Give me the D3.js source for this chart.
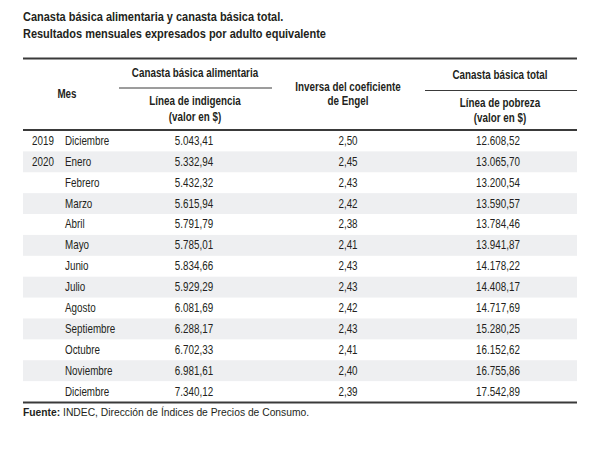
<!DOCTYPE html>
<html>
<head>
<meta charset="utf-8">
<script src="https://cdn.jsdelivr.net/npm/d3@7"></script>
<style>
  body { margin: 0; background: #fff; }
  svg text { font-family: "Liberation Sans", Arial, sans-serif; fill: #231f20; }
</style>
</head>
<body>
<div class="svg"></div>
<script>
// table data
var years = ["2019", "2020", "", "", "", "", "", "", "", "", "", "", ""];
var months = ["Diciembre", "Enero", "Febrero", "Marzo", "Abril", "Mayo", "Junio", "Julio",
  "Agosto", "Septiembre", "Octubre", "Noviembre", "Diciembre"];
var indigencia = ["5.043,41", "5.332,94", "5.432,32", "5.615,94", "5.791,79", "5.785,01", "5.834,66",
  "5.929,29", "6.081,69", "6.288,17", "6.702,33", "6.981,61", "7.340,12"];
var engel = ["2,50", "2,45", "2,43", "2,42", "2,38", "2,41", "2,43", "2,43", "2,42", "2,43", "2,41", "2,40", "2,39"];
var pobreza = ["12.608,52", "13.065,70", "13.200,54", "13.590,57", "13.784,46", "13.941,87", "14.178,22",
  "14.408,17", "14.717,69", "15.280,25", "16.152,62", "16.755,86", "17.542,89"];

var titleLines = ["Canasta básica alimentaria y canasta básica total.",
  "Resultados mensuales expresados por adulto equivalente"];

var w = 612, h = 458;
var left = 23, right = 577;
var rowsTop = 130.5, rowsBottom = 402;
// no condensed font installed, so squeeze the text horizontally
var narrow = 0.82;

var svg = d3.select('div.svg').append('svg')
  .attr('width', w)
  .attr('height', h);

function squeeze(x, y, sx) {
  return 'translate(' + x + ',' + y + ') scale(' + sx + ',1)';
}

var y = d3.scaleBand()
  .domain(d3.range(months.length))
  .range([rowsTop, rowsBottom]);

// stripes on every other row
svg.selectAll('rect.band')
  .data(d3.range(months.length).filter(function (i) { return i % 2 == 1; }))
  .enter()
  .append('rect')
  .attr('class', 'band')
  .attr('x', left)
  .attr('y', function (i) { return y(i); })
  .attr('width', right - left)
  .attr('height', y.bandwidth())
  .attr('fill', '#eeeff1');

// titles
svg.selectAll('text.title')
  .data(titleLines)
  .enter()
  .append('text')
  .attr('class', 'title')
  .attr('transform', function (d, i) { return squeeze(left, 21 + i * 16.5, 0.845); })
  .attr('font-size', '13px')
  .attr('font-weight', 'bold')
  .text(function (d) { return d; });

// header
var headers = [
  {t: "Mes", x: 67, y: 98},
  {t: "Canasta básica alimentaria", x: 195, y: 77},
  {t: "Línea de indigencia", x: 195, y: 105},
  {t: "(valor en $)", x: 195, y: 121},
  {t: "Inversa del coeficiente", x: 348, y: 91},
  {t: "de Engel", x: 348, y: 105},
  {t: "Canasta básica total", x: 500, y: 79},
  {t: "Línea de pobreza", x: 500, y: 107},
  {t: "(valor en $)", x: 500, y: 122}
];
svg.selectAll('text.head')
  .data(headers)
  .enter()
  .append('text')
  .attr('class', 'head')
  .attr('transform', function (d) { return squeeze(d.x, d.y, narrow); })
  .attr('text-anchor', 'middle')
  .attr('font-size', '12px')
  .attr('font-weight', 'bold')
  .text(function (d) { return d.t; });

// rules
var rules = [
  {x1: left, x2: right, y: 58.5, sw: 2},
  {x1: 119, x2: 272, y: 88, sw: 1},
  {x1: 425, x2: right, y: 90.5, sw: 1},
  {x1: left, x2: right, y: 130, sw: 2},
  {x1: left, x2: right, y: rowsBottom + 0.5, sw: 2}
];
svg.selectAll('line.rule')
  .data(rules)
  .enter()
  .append('line')
  .attr('class', 'rule')
  .attr('x1', function (d) { return d.x1; })
  .attr('x2', function (d) { return d.x2; })
  .attr('y1', function (d) { return d.y; })
  .attr('y2', function (d) { return d.y; })
  .attr('stroke', '#3a3a3a')
  .attr('stroke-width', function (d) { return d.sw; });

// body cells
var cols = [
  {vals: years, x: 32, anchor: 'start'},
  {vals: months, x: 65, anchor: 'start'},
  {vals: indigencia, x: 194, anchor: 'middle'},
  {vals: engel, x: 348, anchor: 'middle'},
  {vals: pobreza, x: 498, anchor: 'middle'}
];
cols.forEach(function (c) {
  svg.append('g').selectAll('text')
    .data(c.vals)
    .enter()
    .append('text')
    .attr('transform', function (d, i) { return squeeze(c.x, y(i) + y.bandwidth() / 2 + 4, narrow); })
    .attr('text-anchor', c.anchor)
    .attr('font-size', '12px')
    .text(function (d) { return d; });
});

// source
var src = svg.append('text')
  .attr('x', left)
  .attr('y', 416)
  .attr('font-size', '10.3px');
src.append('tspan').attr('font-weight', 'bold').text('Fuente:');
src.append('tspan').text(' INDEC, Dirección de Índices de Precios de Consumo.');
</script>
</body>
</html>
